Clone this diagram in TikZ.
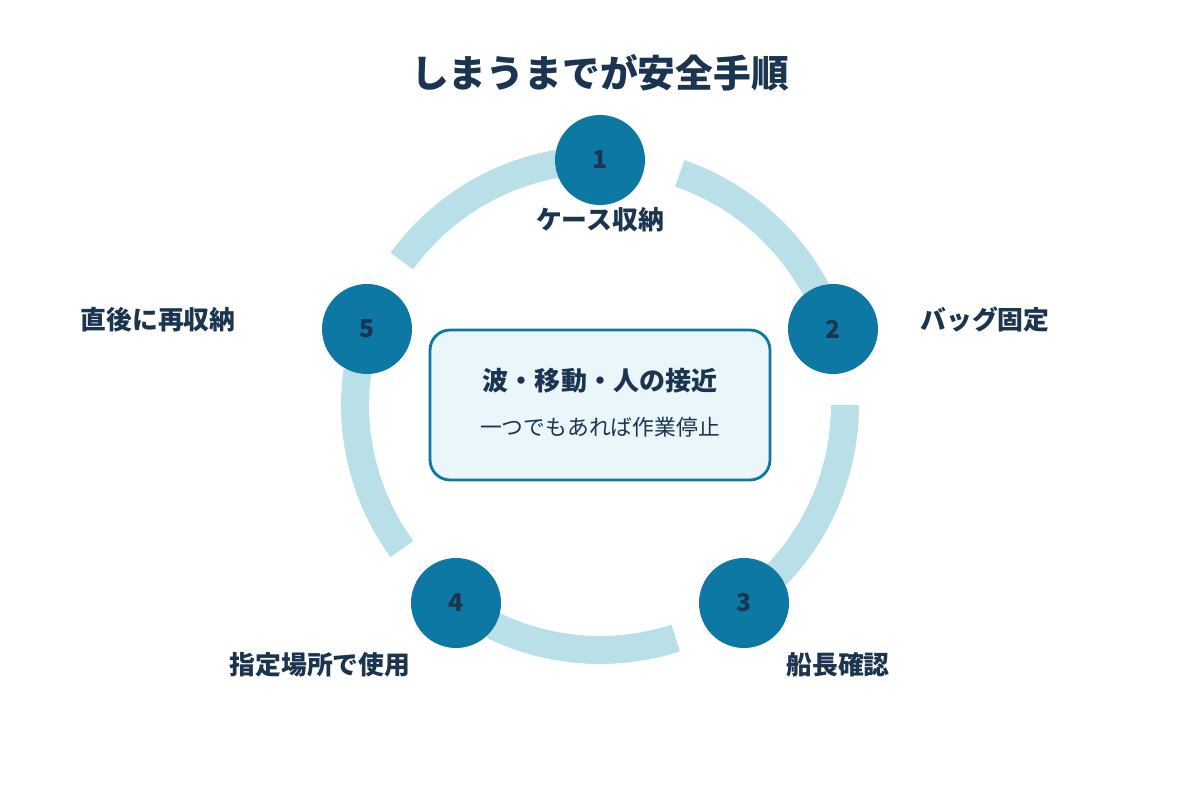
\documentclass[tikz,border=0pt]{standalone}
\usepackage{fontspec}
\newfontfamily\jp{Noto Sans CJK JP}
\definecolor{ring}{HTML}{B9E0E8}
\definecolor{nodec}{HTML}{0E78A5}
\definecolor{navy}{HTML}{1B3550}
\definecolor{boxf}{HTML}{EAF6FA}
\begin{document}
\begin{tikzpicture}[x=0.02cm,y=-0.02cm,
  num/.style={circle,fill=nodec,minimum size=1.8cm,inner sep=0pt,text=navy,font=\jp\bfseries\fontsize{14}{16}\selectfont},
  lab/.style={text=navy,font=\jp\bfseries\fontsize{14.7}{17}\selectfont},
  arcs/.style={ring,line width=0.56cm}]
\useasboundingbox (0,0) rectangle (1200,800);
\fill[white] (0,0) rectangle (1200,800);
\coordinate (c) at (600,405);
\foreach \a/\b in {71/28,0/-44,-72/-116,-144/-188,144/100}{
  \draw[arcs] ([shift={(\a:4.9cm)}]c) arc[start angle=\a,end angle=\b,radius=4.9cm];
}
\node[num] (n1) at (600,160) {1};
\node[num] (n2) at (833,329) {2};
\node[num] (n3) at (744,603) {3};
\node[num] (n4) at (456,603) {4};
\node[num] (n5) at (367,329) {5};
\node[lab] (l1) at (600,220) {ケース収納};
\node[lab] (l2) at (985,320) {バッグ固定};
\node[lab] (l3) at (838,665) {船長確認};
\node[lab] (l4) at (320,665) {指定場所で使用};
\node[lab] (l5) at (158,320) {直後に再収納};
\node[text=navy,font=\jp\bfseries\fontsize{21.5}{24}\selectfont] (t) at (600,73) {しまうまでが安全手順};
\node[draw=nodec,line width=1.6pt,fill=boxf,rounded corners=0.4cm,minimum width=6.8cm,minimum height=3cm] (box) at (600,405) {};
\node[text=navy,font=\jp\bfseries\fontsize{14.8}{17}\selectfont] (b1) at (600,381) {波・移動・人の接近};
\node[text=navy,font=\jp\fontsize{12.4}{15}\selectfont] (b2) at (600,427) {一つでもあれば作業停止};
\end{tikzpicture}
\end{document}
